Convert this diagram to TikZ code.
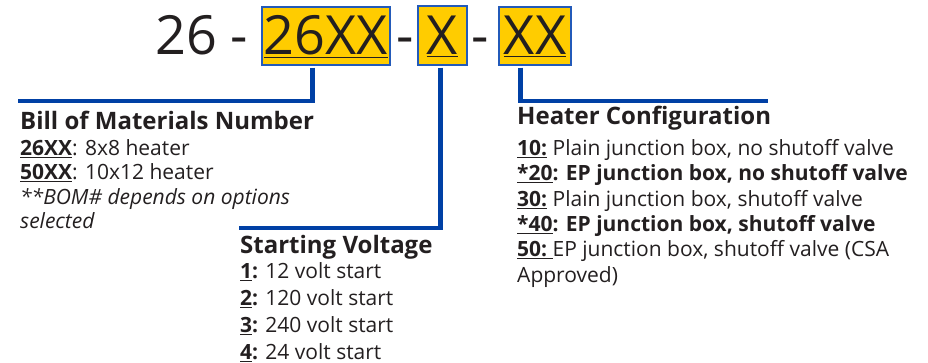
\documentclass[tikz,border=0pt]{standalone}
\usepackage{fontspec}
\setmainfont{Open Sans}
\usetikzlibrary{positioning,calc}
\definecolor{codeyellow}{RGB}{255,204,0}
\definecolor{boxblue}{RGB}{35,90,185}
\definecolor{leadblue}{RGB}{0,64,165}
\definecolor{inkgray}{RGB}{35,31,32}
\newcommand{\bigcode}{\fontsize{54}{60}\selectfont}
\tikzset{
  codebox/.style={draw=boxblue, fill=codeyellow, line width=1.5pt, inner sep=0pt, anchor=base, font=\bigcode, text=inkgray, text depth=10pt},
  bigtext/.style={font=\bigcode, text=inkgray, inner sep=0pt, anchor=base},
  heading/.style={font=\fontsize{24}{28}\selectfont\bfseries, text=inkgray, inner sep=0pt, anchor=base west, text height=17pt, text depth=5pt},
  entry/.style={font=\fontsize{21}{25}\selectfont, text=inkgray, inner sep=0pt, text height=15.5pt, text depth=5pt},
  leader/.style={draw=leadblue, line width=4.5pt, line join=miter}
}
\begin{document}
\begin{tikzpicture}[x=1pt, y=-1pt]
\useasboundingbox (0,0) rectangle (928,363);
% part number
\node[bigtext, anchor=base west] (prefix) at (155,55) {26 -};
\node[codebox, minimum width=128pt, text height=48pt] (bom) at (326,55) {\underline{26XX}};
\node[bigtext] (dasha) at (405,55) {-};
\node[codebox, minimum width=49pt, text height=49pt] (volt) at (442.5,55) {\underline{X}};
\node[bigtext] (dashb) at (480,55) {-};
\node[codebox, minimum width=72pt, text height=48pt] (cfg) at (535,55) {\underline{XX}};
% leaders
\coordinate (bomend) at (18,101);
\coordinate (voltend) at (239,228);
\coordinate (cfgend) at (768,101);
\draw[leader] ([xshift=-13.5pt,yshift=-2pt]bom.south) |- (bomend);
\draw[leader] ([xshift=-2pt,yshift=-2pt]volt.south) |- (voltend);
\draw[leader] ([xshift=-14.5pt,yshift=-2pt]cfg.south) |- (cfgend);
% bill of materials
\node[heading] (bomhead) at (20,130) {Bill of Materials Number};
\node[entry, below=4.5pt of bomhead.south west, anchor=north west] (boma) {\underline{\textbf{26XX}}: 8x8 heater};
\node[entry, below=3.5pt of boma.south west, anchor=north west] (bomb) {\underline{\textbf{50XX}}: 10x12 heater};
\node[entry, below=3.5pt of bomb.south west, anchor=north west] (bomc) {\itshape **BOM\# depends on options};
\node[entry, below=3.5pt of bomc.south west, anchor=north west] (bomd) {\itshape selected};
% starting voltage
\node[heading] (volthead) at (240,253) {Starting Voltage};
\node[entry, below=4.5pt of volthead.south west, anchor=north west] (volta) {\underline{\textbf{1}}\textbf{:} 12 volt start};
\node[entry, below=6.2pt of volta.south west, anchor=north west] (voltb) {\underline{\textbf{2}}\textbf{:} 120 volt start};
\node[entry, below=6.2pt of voltb.south west, anchor=north west] (voltc) {\underline{\textbf{3}}\textbf{:} 240 volt start};
\node[entry, below=6.2pt of voltc.south west, anchor=north west] (voltd) {\underline{\textbf{4}}\textbf{:} 24 volt start};
% heater configuration
\node[heading] (cfghead) at (517,125) {Heater Configuration};
\node[entry, below=9.5pt of cfghead.south west, anchor=north west] (cfga) {\underline{\textbf{10:}} Plain junction box, no shutoff valve};
\node[entry, below=4.5pt of cfga.south west, anchor=north west] (cfgb) {\bfseries\underline{*20}: EP junction box, no shutoff valve};
\node[entry, below=4.5pt of cfgb.south west, anchor=north west] (cfgc) {\underline{\textbf{30:}} Plain junction box, shutoff valve};
\node[entry, below=4.5pt of cfgc.south west, anchor=north west] (cfgd) {\bfseries\underline{*40}: EP junction box, shutoff valve};
\node[entry, below=4.5pt of cfgd.south west, anchor=north west] (cfge) {\underline{\textbf{50:}\ }EP junction box, shutoff valve (CSA};
\node[entry, below=4.5pt of cfge.south west, anchor=north west] (cfgf) {Approved)};
\end{tikzpicture}
\end{document}
